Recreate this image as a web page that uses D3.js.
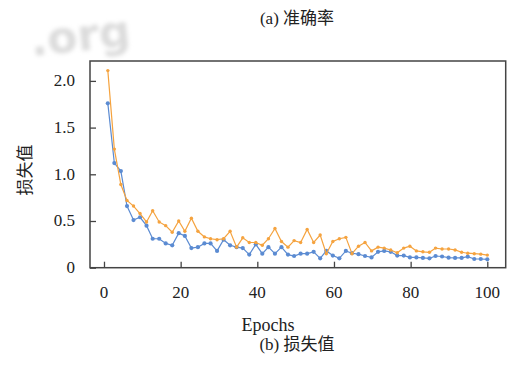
<!DOCTYPE html>
<html>
<head>
<meta charset="utf-8">
<script src="https://cdn.jsdelivr.net/npm/d3@7"></script>
<style>
  body { margin: 0; background: #fff; }
  text { font-family: "Times New Roman", "Liberation Serif", "DejaVu Serif", "Noto Sans CJK SC", serif; fill: #222; }
</style>
</head>
<body>
<svg class="chart" width="510" height="365"></svg>
<script>
// epochs at which the loss was logged
var epochs = [1, 2.7, 4.4, 6.0, 7.7, 9.4, 11.1, 12.7, 14.4, 16.1,
  17.8, 19.5, 21.1, 22.8, 24.5, 26.2, 27.8, 29.5, 31.2, 32.9,
  34.6, 36.2, 37.9, 39.6, 41.3, 42.9, 44.6, 46.3, 48.0, 49.6,
  51.3, 53.0, 54.7, 56.4, 58.0, 59.7, 61.4, 63.1, 64.7, 66.4,
  68.1, 69.8, 71.5, 73.1, 74.8, 76.5, 78.2, 79.8, 81.5, 83.2,
  84.9, 86.5, 88.2, 89.9, 91.6, 93.3, 94.9, 96.6, 98.3, 100];
var lossBlue = [1.76, 1.12, 1.035, 0.66, 0.51, 0.54, 0.45, 0.31, 0.31, 0.26,
  0.24, 0.37, 0.34, 0.21, 0.22, 0.26, 0.26, 0.18, 0.30, 0.24,
  0.22, 0.21, 0.14, 0.25, 0.15, 0.22, 0.15, 0.22, 0.14, 0.125,
  0.15, 0.15, 0.17, 0.10, 0.18, 0.13, 0.10, 0.18, 0.155, 0.145,
  0.125, 0.11, 0.17, 0.18, 0.17, 0.13, 0.13, 0.11, 0.11, 0.105,
  0.10, 0.125, 0.12, 0.107, 0.105, 0.105, 0.118, 0.093, 0.093, 0.09];
var lossOrange = [2.11, 1.27, 0.89, 0.72, 0.66, 0.58, 0.49, 0.61, 0.49, 0.45,
  0.38, 0.50, 0.39, 0.53, 0.39, 0.33, 0.31, 0.30, 0.31, 0.39,
  0.22, 0.32, 0.27, 0.27, 0.24, 0.31, 0.42, 0.28, 0.22, 0.29,
  0.27, 0.41, 0.27, 0.35, 0.15, 0.28, 0.31, 0.325, 0.15, 0.23,
  0.27, 0.18, 0.22, 0.21, 0.19, 0.16, 0.21, 0.23, 0.18, 0.17,
  0.165, 0.21, 0.20, 0.20, 0.19, 0.165, 0.155, 0.15, 0.145, 0.135];
var xTicks = [0, 20, 40, 60, 80, 100];
var yTicks = [0, 0.5, 1.0, 1.5, 2.0];

var box = {left: 90, right: 505.7, top: 61, bottom: 267.7};
var svg = d3.select('.chart');

// faint watermark above the plot box
var defs = svg.append('defs');
defs.append('filter').attr('id', 'blur').append('feGaussianBlur').attr('stdDeviation', 2.2);
svg.append('text')
  .attr('transform', 'translate(32,56) rotate(-6)')
  .attr('font-size', 44).attr('font-weight', 'bold')
  .style('font-family', 'DejaVu Sans')
  .style('fill', '#dcdcdc').attr('filter', 'url(#blur)')
  .text('.org');

var x = d3.scaleLinear().domain([-3.65, 104.8]).range([box.left, box.right]);
var y = d3.scaleLinear().domain([0, 2.213]).range([box.bottom, box.top]);

var plot = svg.append('g');
plot.append('rect')
  .attr('x', box.left).attr('y', box.top)
  .attr('width', box.right - box.left).attr('height', box.bottom - box.top)
  .attr('fill', '#fff').attr('stroke', '#444').attr('stroke-width', 1.5);

// axes: ticks point inward
var xAxis = plot.append('g').attr('transform', 'translate(0,' + box.bottom + ')')
  .call(d3.axisTop(x).tickValues(xTicks).tickSize(6).tickFormat(''));
var yAxis = plot.append('g').attr('transform', 'translate(' + box.left + ',0)')
  .call(d3.axisRight(y).tickValues(yTicks).tickSize(6).tickFormat(''));
[xAxis, yAxis].forEach(function(a) {
  a.select('.domain').remove();
  a.selectAll('line').attr('stroke', '#444').attr('stroke-width', 1.3);
});

plot.selectAll('.xlab').data(xTicks).enter().append('text')
  .attr('x', function(d) { return x(d); }).attr('y', box.bottom + 30)
  .attr('text-anchor', 'middle').attr('font-size', 17)
  .text(function(d) { return d; });
plot.selectAll('.ylab').data(yTicks).enter().append('text')
  .attr('x', box.left - 15).attr('y', function(d) { return y(d) + 5.5; })
  .attr('text-anchor', 'end').attr('font-size', 17)
  .text(function(d) { return d === 0 ? '0' : d3.format('.1f')(d); });

var line = d3.line()
  .x(function(d, i) { return x(epochs[i]); })
  .y(function(d) { return y(d); });

var series = [
  {vals: lossBlue, color: '#5b8bd2', r: 2.1},
  {vals: lossOrange, color: '#f5a33f', r: 1.7}
];
series.forEach(function(s) {
  plot.append('path').datum(s.vals)
    .attr('d', line).attr('fill', 'none')
    .attr('stroke', s.color).attr('stroke-width', 1.2);
  plot.append('g').selectAll('circle').data(s.vals).enter().append('circle')
    .attr('cx', function(d, i) { return x(epochs[i]); })
    .attr('cy', function(d) { return y(d); })
    .attr('r', s.r).attr('fill', s.color);
});

// titles
svg.append('text').attr('x', 268).attr('y', 331)
  .attr('text-anchor', 'middle').attr('font-size', 18).text('Epochs');
svg.append('text').attr('x', 297).attr('y', 350)
  .attr('text-anchor', 'middle').attr('font-size', 17).text('(b) 损失值');
svg.append('text').attr('x', 297).attr('y', 24)
  .attr('text-anchor', 'middle').attr('font-size', 17).text('(a) 准确率');
svg.append('text')
  .attr('transform', 'translate(31,170) rotate(-90)')
  .attr('text-anchor', 'middle').attr('font-size', 17).text('损失值');
</script>
</body>
</html>
